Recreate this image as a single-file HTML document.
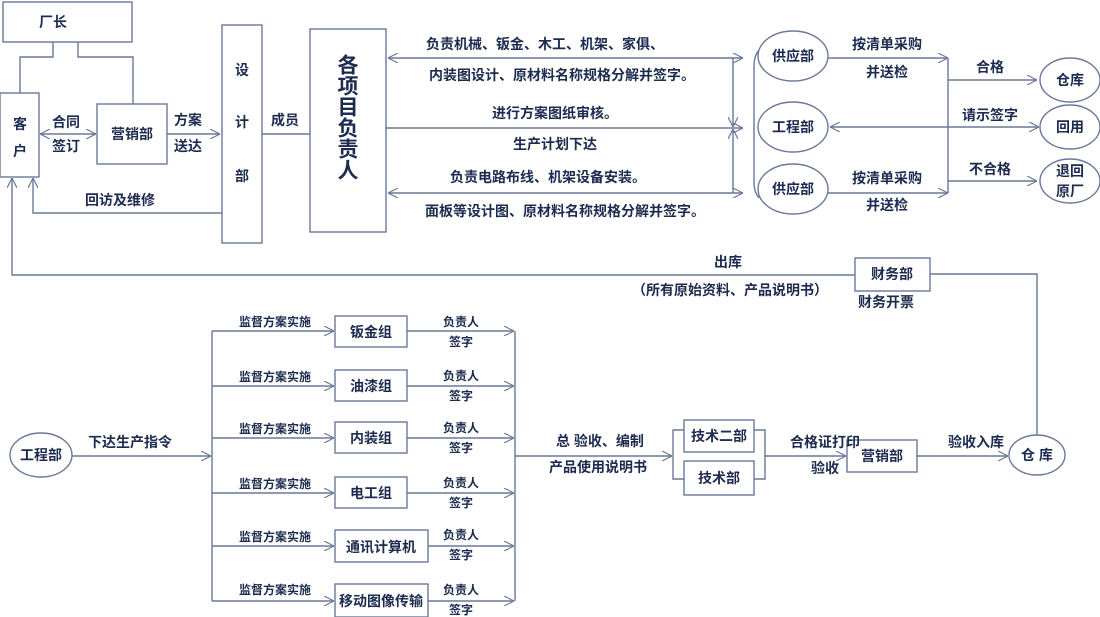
<!DOCTYPE html>
<html><head><meta charset="utf-8"><style>
html,body{margin:0;padding:0;background:#fff;}
svg{display:block;}
text{font-family:"Liberation Sans","Noto Sans CJK SC",sans-serif;fill:#1c2b4f;font-size:14px;text-anchor:middle;dominant-baseline:central;font-weight:bold;}
.s{font-size:12px;}
.b{font-size:21px;}
</style></head><body>
<svg width="1100" height="617" viewBox="0 0 1100 617" xmlns="http://www.w3.org/2000/svg">
<defs>
<marker id="a" viewBox="0 0 10 10" refX="10" refY="5" markerWidth="10" markerHeight="10" markerUnits="userSpaceOnUse" orient="auto-start-reverse">
<path d="M0,0 L10,5 L0,10" fill="none" stroke="#6a7899" stroke-width="1.2"/>
</marker>
</defs>
<g fill="none" stroke="#6a7899" stroke-width="1.4">
<rect x="3" y="2" width="129" height="40" fill="#fff"/>
<polyline points="53,42 53,57 20,57 20,93"/>
<polyline points="78,42 78,57 133,57 133,104"/>
<rect x="0" y="93" width="39" height="84"/>
<rect x="97" y="104" width="70" height="60"/>
<line x1="40" y1="134" x2="96" y2="134" marker-start="url(#a)" marker-end="url(#a)"/>
<line x1="167" y1="134" x2="220" y2="134" marker-end="url(#a)"/>
<rect x="222" y="25" width="40" height="218"/>
<polyline points="222,213 33,213 33,178" marker-end="url(#a)"/>
<polyline points="855,275 12,275 12,178" marker-end="url(#a)"/>
<line x1="262" y1="134" x2="310" y2="134"/>
<rect x="310" y="29" width="76" height="203"/>
<line x1="388" y1="58" x2="743" y2="58" marker-start="url(#a)" marker-end="url(#a)"/>
<line x1="386" y1="128" x2="743" y2="128" marker-end="url(#a)"/>
<line x1="388" y1="193" x2="743" y2="193" marker-start="url(#a)" marker-end="url(#a)"/>
<line x1="733" y1="58" x2="733" y2="127" marker-end="url(#a)"/>
<line x1="733" y1="193" x2="733" y2="129" marker-end="url(#a)"/>
<path d="M759,50 Q754,56 754,66 L754,183 Q754,192 759,198"/>
<ellipse cx="793" cy="56" rx="35" ry="25"/>
<ellipse cx="793" cy="127" rx="35" ry="25"/>
<ellipse cx="793" cy="189" rx="35" ry="25"/>
<line x1="828" y1="58" x2="948" y2="58" marker-end="url(#a)"/>
<line x1="828" y1="193" x2="948" y2="193" marker-end="url(#a)"/>
<line x1="948" y1="58" x2="948" y2="193"/>
<line x1="948" y1="80" x2="1037" y2="80" marker-end="url(#a)"/>
<line x1="948" y1="181" x2="1037" y2="181" marker-end="url(#a)"/>
<line x1="830" y1="127" x2="1039" y2="127" marker-start="url(#a)" marker-end="url(#a)"/>
<ellipse cx="1070" cy="80" rx="30" ry="22"/>
<ellipse cx="1070" cy="127" rx="30" ry="22"/>
<ellipse cx="1070" cy="181" rx="30" ry="22"/>
<rect x="855" y="258" width="75" height="33"/>
<polyline points="930,274 1037,274 1037,435"/>
<ellipse cx="41" cy="455" rx="31" ry="22"/>
<line x1="72" y1="456" x2="211" y2="456" marker-end="url(#a)"/>
<line x1="212" y1="331" x2="212" y2="601"/>
<line x1="515" y1="331" x2="515" y2="601"/>
<line x1="212" y1="331" x2="334" y2="331" marker-end="url(#a)"/>
<line x1="212" y1="386" x2="334" y2="386" marker-end="url(#a)"/>
<line x1="212" y1="438" x2="334" y2="438" marker-end="url(#a)"/>
<line x1="212" y1="493" x2="334" y2="493" marker-end="url(#a)"/>
<line x1="212" y1="546" x2="334" y2="546" marker-end="url(#a)"/>
<line x1="212" y1="601" x2="334" y2="601" marker-end="url(#a)"/>
<line x1="407" y1="331" x2="514" y2="331" marker-end="url(#a)"/>
<line x1="407" y1="386" x2="514" y2="386" marker-end="url(#a)"/>
<line x1="407" y1="438" x2="514" y2="438" marker-end="url(#a)"/>
<line x1="407" y1="493" x2="514" y2="493" marker-end="url(#a)"/>
<line x1="428" y1="546" x2="514" y2="546" marker-end="url(#a)"/>
<line x1="428" y1="601" x2="514" y2="601" marker-end="url(#a)"/>
<rect x="335" y="316" width="72" height="31"/>
<rect x="335" y="370" width="72" height="31"/>
<rect x="335" y="422" width="72" height="31"/>
<rect x="335" y="477" width="72" height="31"/>
<rect x="335" y="530" width="93" height="32"/>
<rect x="335" y="584" width="93" height="33"/>
<line x1="515" y1="456" x2="672" y2="456" marker-end="url(#a)"/>
<polyline points="684,430 673,430 673,479 684,479"/>
<polyline points="754,430 765,430 765,479 754,479"/>
<rect x="684" y="420" width="70" height="32"/>
<rect x="684" y="461" width="70" height="34"/>
<line x1="765" y1="456" x2="846" y2="456" marker-end="url(#a)"/>
<rect x="847" y="440" width="70" height="32"/>
<line x1="917" y1="456" x2="1008" y2="456" marker-end="url(#a)"/>
<ellipse cx="1037" cy="455" rx="28" ry="20"/>
</g>
<text x="53" y="22">厂长</text>
<text x="20" y="124">客</text><text x="20" y="151">户</text>
<text x="66" y="122">合同</text><text x="66" y="146">签订</text>
<text x="132" y="134">营销部</text>
<text x="188" y="120">方案</text><text x="188" y="146">送达</text>
<text x="242" y="70">设</text><text x="242" y="122">计</text><text x="242" y="176">部</text>
<text x="120" y="200">回访及维修</text>
<text x="285" y="120">成员</text>
<text class="b" x="348" y="66">各</text><text class="b" x="348" y="87">项</text><text class="b" x="348" y="108">目</text><text class="b" x="348" y="129">负</text><text class="b" x="348" y="150">责</text><text class="b" x="348" y="171">人</text>
<text x="545" y="44">负责机械、钣金、木工、机架、家俱、</text>
<text x="562" y="75">内装图设计、原材料名称规格分解并签字。</text>
<text x="555" y="113">进行方案图纸审核。</text>
<text x="555" y="144">生产计划下达</text>
<text x="548" y="177">负责电路布线、机架设备安装。</text>
<text x="565" y="211">面板等设计图、原材料名称规格分解并签字。</text>
<text x="793" y="56">供应部</text><text x="793" y="127">工程部</text><text x="793" y="189">供应部</text>
<text x="887" y="44">按清单采购</text><text x="887" y="72">并送检</text>
<text x="887" y="178">按清单采购</text><text x="887" y="205">并送检</text>
<text x="990" y="67">合格</text><text x="990" y="115">请示签字</text><text x="990" y="169">不合格</text>
<text x="1070" y="80">仓库</text><text x="1070" y="127">回用</text>
<text x="1070" y="171">退回</text><text x="1070" y="191">原厂</text>
<text x="728" y="262">出库</text>
<text x="730" y="290">（所有原始资料、产品说明书）</text>
<text x="892" y="274">财务部</text><text x="886" y="302">财务开票</text>
<text x="41" y="455">工程部</text>
<text x="130" y="442">下达生产指令</text>
<text class="s" x="275" y="322">监督方案实施</text>
<text class="s" x="275" y="377">监督方案实施</text>
<text class="s" x="275" y="429">监督方案实施</text>
<text class="s" x="275" y="484">监督方案实施</text>
<text class="s" x="275" y="537">监督方案实施</text>
<text class="s" x="275" y="590">监督方案实施</text>
<text x="371" y="332">钣金组</text><text x="371" y="386">油漆组</text><text x="371" y="438">内装组</text><text x="371" y="493">电工组</text>
<text x="381" y="547">通讯计算机</text><text x="381" y="601">移动图像传输</text>
<text class="s" x="461" y="322">负责人</text><text class="s" x="461" y="342">签字</text>
<text class="s" x="461" y="376">负责人</text><text class="s" x="461" y="396">签字</text>
<text class="s" x="461" y="428">负责人</text><text class="s" x="461" y="448">签字</text>
<text class="s" x="461" y="483">负责人</text><text class="s" x="461" y="503">签字</text>
<text class="s" x="461" y="535">负责人</text><text class="s" x="461" y="555">签字</text>
<text class="s" x="461" y="590">负责人</text><text class="s" x="461" y="610">签字</text>
<text x="600" y="441">总 验收、编制</text><text x="598" y="467">产品使用说明书</text>
<text x="719" y="436">技术二部</text><text x="719" y="478">技术部</text>
<text x="825" y="442">合格证打印</text><text x="825" y="468">验收</text>
<text x="882" y="456">营销部</text>
<text x="976" y="442">验收入库</text>
<text x="1037" y="455">仓 库</text>
</svg>
</body></html>
